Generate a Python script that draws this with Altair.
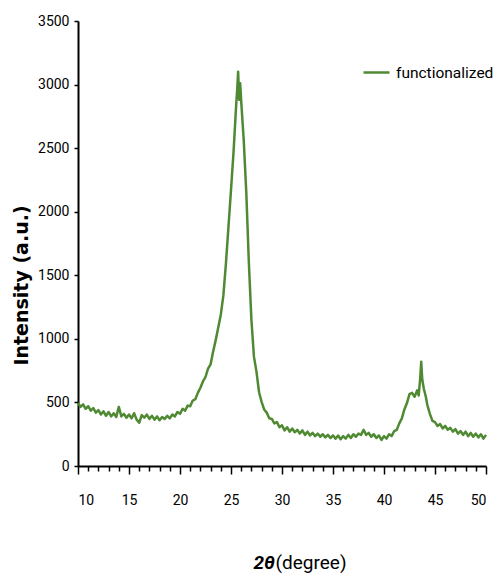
import altair as alt
import pandas as pd

two_theta = [
    10.0, 10.25, 10.5, 10.75, 11.0, 11.25, 11.5, 11.75, 12.0, 12.25, 12.5, 12.75,
    13.0, 13.25, 13.5, 13.75, 14.0, 14.25, 14.5, 14.75, 15.0, 15.25, 15.5, 15.75,
    16.0, 16.25, 16.5, 16.75, 17.0, 17.25, 17.5, 17.75, 18.0, 18.25, 18.5, 18.75,
    19.0, 19.25, 19.5, 19.75, 20.0, 20.25, 20.5, 20.75, 21.0, 21.25, 21.5, 21.75,
    22.0, 22.25, 22.5, 22.75, 23.0, 23.25, 23.5, 23.75, 24.0, 24.25, 24.5, 24.75,
    25.0, 25.25, 25.5, 25.6, 25.7, 25.8, 25.9, 26.0, 26.25, 26.5, 26.75,
    27.0, 27.25, 27.5, 27.75, 28.0, 28.25, 28.5, 28.75, 29.0, 29.25, 29.5, 29.75,
    30.0, 30.25, 30.5, 30.75, 31.0, 31.25, 31.5, 31.75, 32.0, 32.25, 32.5, 32.75,
    33.0, 33.25, 33.5, 33.75, 34.0, 34.25, 34.5, 34.75, 35.0, 35.25, 35.5, 35.75,
    36.0, 36.25, 36.5, 36.75, 37.0, 37.25, 37.5, 37.75, 38.0, 38.25, 38.5, 38.75,
    39.0, 39.25, 39.5, 39.75, 40.0, 40.25, 40.5, 40.75, 41.0, 41.25, 41.5, 41.75,
    42.0, 42.25, 42.5, 42.75, 43.0, 43.25, 43.4, 43.55, 43.65, 43.75, 43.9,
    44.1, 44.25, 44.5, 44.75, 45.0, 45.25, 45.5, 45.75, 46.0, 46.25, 46.5, 46.75,
    47.0, 47.25, 47.5, 47.75, 48.0, 48.25, 48.5, 48.75, 49.0, 49.25, 49.5, 49.75,
    50.0,
]

intensity = [
    495, 465, 485, 450, 470, 435, 455, 420, 440, 405, 430, 395,
    425, 390, 415, 385, 465, 390, 410, 380, 405, 375, 415, 365,
    340, 400, 380, 405, 370, 395, 365, 390, 360, 385, 370, 395,
    375, 405, 390, 425, 410, 450, 435, 475, 470, 515, 525, 575,
    615, 665, 700, 765, 800, 900, 990, 1090, 1190, 1340, 1590, 1880,
    2170, 2470, 2830, 2950, 3100, 2880, 3010, 2870, 2560, 2150, 1600,
    1150, 860, 740, 580, 505, 445, 420, 375, 370, 335, 345, 305,
    320, 280, 305, 270, 295, 265, 285, 255, 280, 245, 270, 240,
    260, 235, 255, 230, 250, 225, 245, 220, 240, 215, 240, 210,
    235, 215, 245, 220, 250, 230, 255, 245, 285, 245, 260, 230,
    250, 220, 240, 205, 235, 215, 250, 235, 275, 285, 335, 375,
    445, 495, 565, 575, 545, 595, 555, 690, 820, 680, 610,
    545, 480, 410, 355, 345, 315, 330, 295, 315, 285, 300, 270,
    290, 255, 275, 245, 270, 235, 260, 230, 255, 225, 250, 215,
    245,
]

series_name = ["functionalized"]
x_ticks = list(range(10, 51))
y_ticks = [0, 500, 1000, 1500, 2000, 2500, 3000, 3500]

df = pd.DataFrame({"two_theta": two_theta, "intensity": intensity})
df["series"] = series_name[0]

GREEN = "#4f8a33"
NARROW = "Roboto, Lato, sans-serif"
BOLD = "DejaVu Sans, Verdana, sans-serif"

xscale = alt.Scale(domain=[10, 50], nice=False, zero=False)
yscale = alt.Scale(domain=[0, 3500], nice=False)

line = alt.Chart(df).mark_line(strokeWidth=2.5, strokeJoin="round").encode(
    x=alt.X(
        "two_theta:Q",
        scale=xscale,
        axis=alt.Axis(
            values=x_ticks,
            format="d",
            labelExpr="datum.value % 5 === 0 ? datum.label : ''",
            tickSize=alt.ExprRef(expr="datum.value % 5 === 0 ? 8 : 5"),
            tickWidth=1.5,
            tickColor="black",
            domainColor="black",
            domainWidth=2,
            labelFont=NARROW,
            labelFontSize=14,
            labelColor="black",
            labelPadding=19,
            grid=False,
            title="(degree)",
            titleFont=NARROW,
            titleFontSize=19,
            titleFontWeight="normal",
            titleColor="black",
            titleAlign="left",
            titleBaseline="alphabetic",
            titleX=197,
            titleY=102,
        ),
    ),
    y=alt.Y(
        "intensity:Q",
        scale=yscale,
        axis=alt.Axis(
            values=y_ticks,
            format="d",
            tickSize=4,
            tickWidth=1.5,
            tickColor="black",
            domainColor="black",
            domainWidth=2,
            labelFont=NARROW,
            labelFontSize=14,
            labelColor="black",
            labelPadding=5,
            grid=False,
            title="Intensity (a.u.)",
            titleFont=BOLD,
            titleFontSize=19,
            titleFontWeight="bold",
            titleColor="black",
            titleBaseline="middle",
            titleAlign="center",
            titleX=-57,
            titleY=264,
        ),
    ),
    color=alt.Color(
        "series:N",
        scale=alt.Scale(domain=series_name, range=[GREEN]),
        legend=alt.Legend(
            title=None,
            orient="none",
            legendX=284,
            legendY=37,
            symbolType="stroke",
            symbolSize=676,
            symbolStrokeWidth=2.5,
            labelFont=NARROW,
            labelFontSize=15.5,
            labelColor="black",
            labelOffset=5,
            padding=0,
        ),
    ),
)

theta_title = alt.Chart(df).mark_line(opacity=0).encode(
    x=alt.X(
        "two_theta:Q",
        scale=xscale,
        axis=alt.Axis(
            orient="top",
            labels=False,
            ticks=False,
            domain=False,
            grid=False,
            title="2θ",
            titleFont=NARROW,
            titleFontSize=19,
            titleFontWeight="bold",
            titleFontStyle="italic",
            titleColor="black",
            titleAlign="left",
            titleBaseline="alphabetic",
            titleX=175,
            titleY=547,
        ),
    ),
    y=alt.Y("intensity:Q", scale=yscale, axis=None),
)

chart = (
    alt.layer(line, theta_title)
    .resolve_axis(x="independent", y="independent")
    .properties(
        width=408,
        height=445,
        autosize=alt.AutoSizeParams(type="none"),
        padding={"left": 78, "top": 21, "right": 11, "bottom": 110},
        background="white",
    )
    .configure_view(stroke=None)
)

chart.save("out.html", embed_options={"renderer": "svg", "actions": False})
